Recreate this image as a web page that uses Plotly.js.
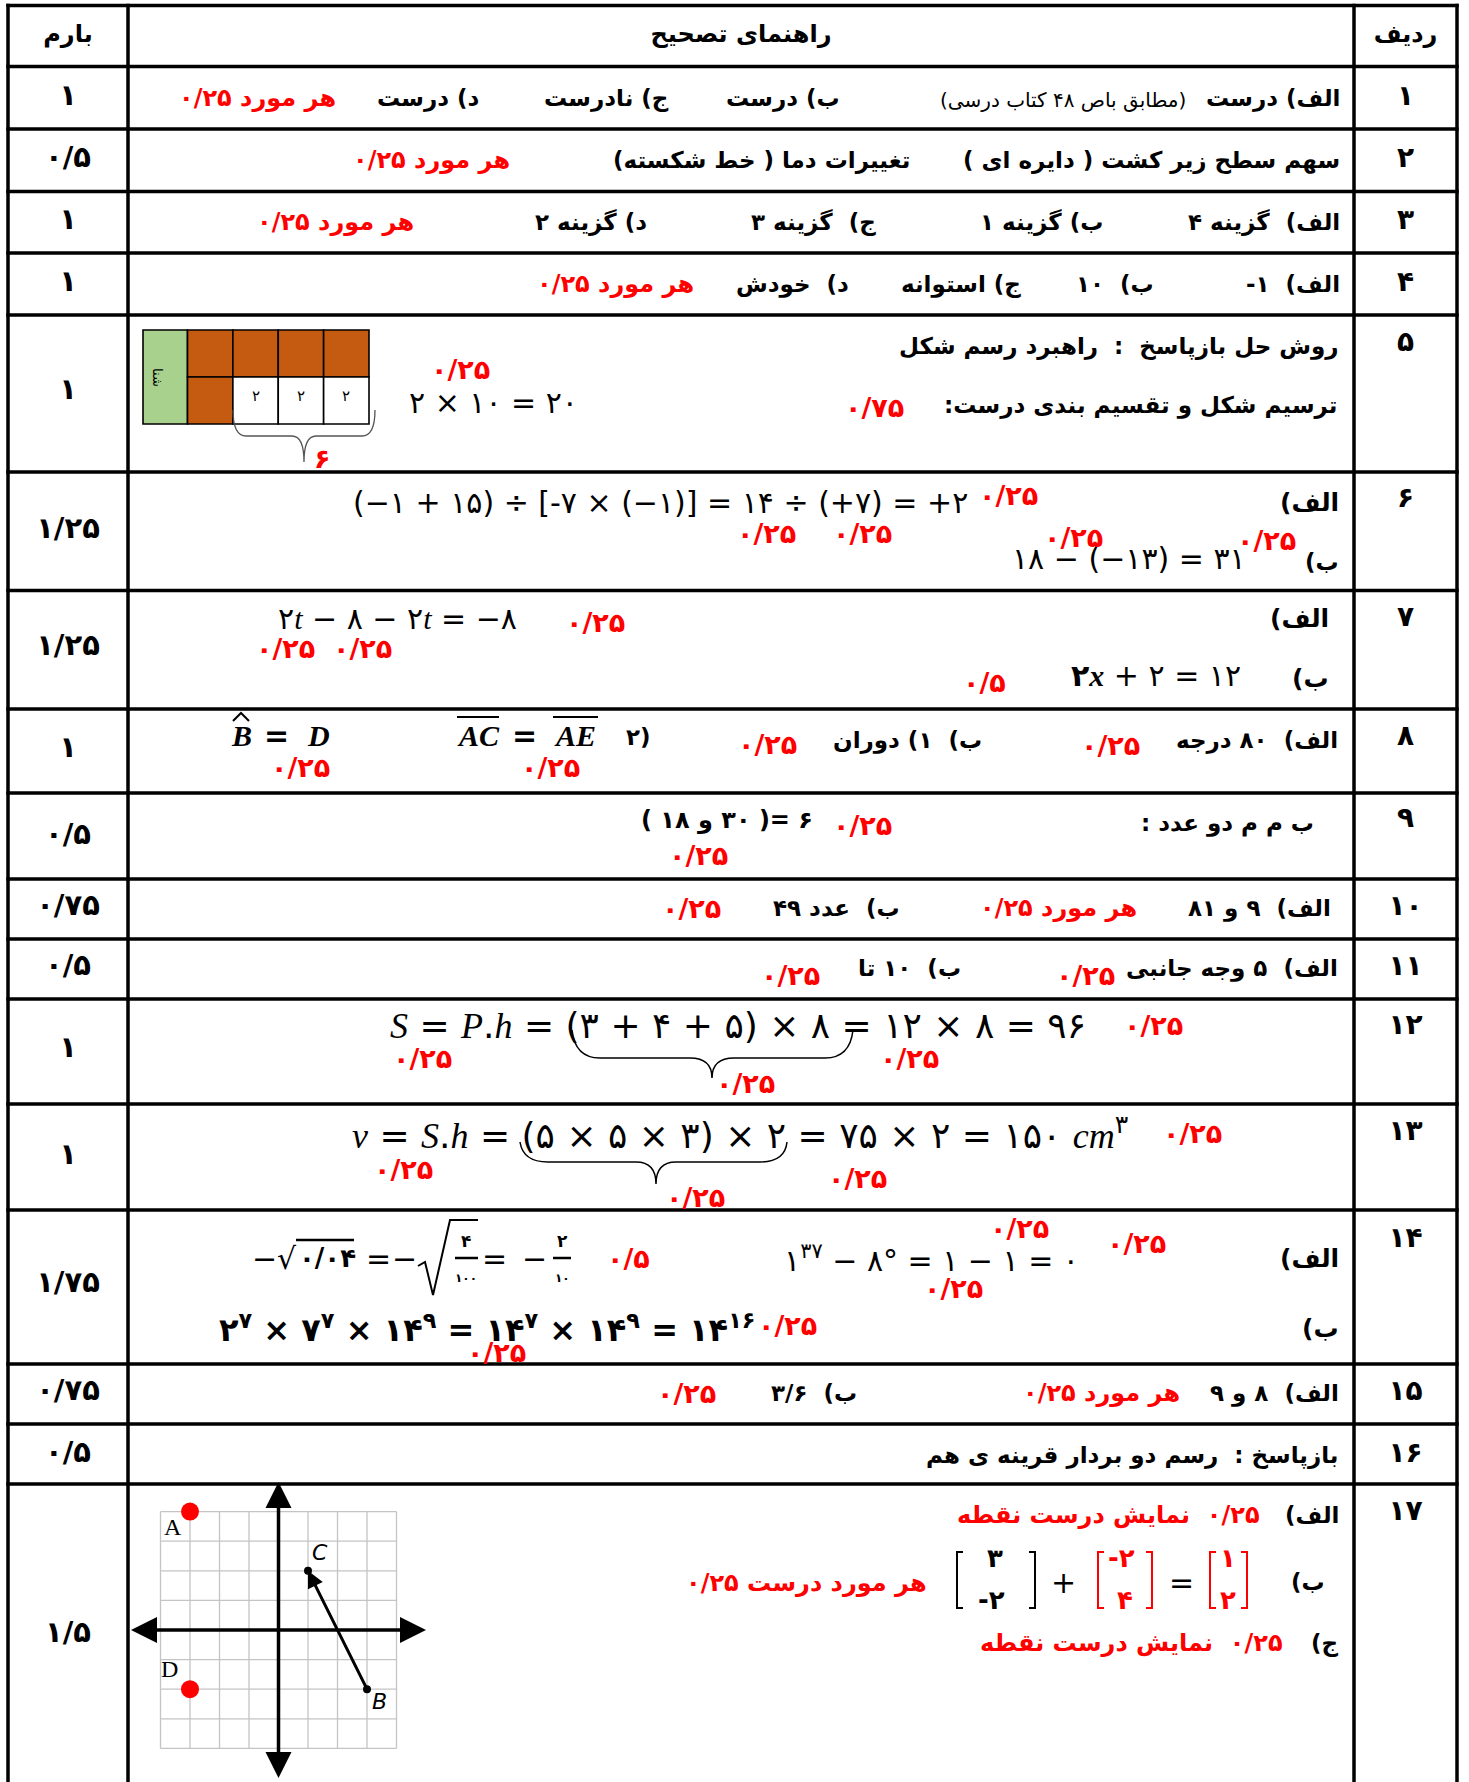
<!DOCTYPE html>
<html>
<head>
<meta charset="utf-8">
<script src="https://cdn.plot.ly/plotly-3.0.1.min.js"></script>
<style>html,body{margin:0;padding:0;background:#fff}</style>
</head>
<body>
<div id="sheet" style="width:1469px;height:1782px"></div>
<script>
// answer key: column titles, row numbers and the score of each row
var headerTitles = ['بارم', 'راهنمای تصحیح', 'ردیف'];
var rowNumbers = ['۱','۲','۳','۴','۵','۶','۷','۸','۹','۱۰','۱۱','۱۲','۱۳','۱۴','۱۵','۱۶','۱۷'];
var rowScores = ['۱','۰/۵','۱','۱','۱','۱/۲۵','۱/۲۵','۱','۰/۵','۰/۷۵','۰/۵','۱','۱','۱/۷۵','۰/۷۵','۰/۵','۱/۵'];

// question 17: points on the grid and the vector B -> C
var gridSteps = [-4, -3, -2, -1, 0, 1, 2, 3, 4];
var pointNames = ['A', 'D'];
var pointX = [-3, -3];
var pointY = [4, -2];
var vectorNames = ['B', 'C'];
var vectorX = [3, 1];
var vectorY = [-2, 2];

// question 5: bar model (4 parts on top, 1 shaded + three 2s below)
var topCells = 4;
var bottomShaded = 1;
var bottomLabels = ['۲', '۲', '۲'];

// ---- page geometry (pixels) ----
var W = 1469, H = 1782;
var rowEdges = [5.5, 66.5, 129, 191.5, 253, 315, 472, 590.5, 709, 793, 879, 939, 999, 1104, 1210, 1364, 1424, 1484];
var colEdges = [8, 128, 1354, 1457];
var numY = [98, 160, 222, 284, 344, 500, 619, 738, 820, 908, 968, 1027, 1133, 1240, 1393, 1455, 1513];
var scoreY = [98, 160, 222, 284, 392, 531, 648, 750, 837, 908, 968, 1050, 1157, 1285, 1393, 1455, 1635];

var FA = 'DejaVu Sans';
var SERIF = 'Liberation Serif';
var RED = '#ff0000';
var RLM = '\u200F';

var STY = {
  b:  {family: FA, size: 23, color: '#000', weight: 'bold', rtl: true},
  B:  {family: FA, size: 25, color: '#000', weight: 'bold', rtl: true},
  r:  {family: FA, size: 24, color: RED, weight: 'bold', rtl: true},
  rn: {family: FA, size: 27, color: RED, weight: 'bold'},
  s:  {family: FA, size: 20, color: '#000', weight: 'normal', rtl: true},
  lro:{family: FA, size: 24, color: '#000', weight: 'bold', lro: true},
  m:  {family: FA, size: 30, color: '#000', weight: 'normal'},
  mb: {family: FA, size: 30, color: '#000', weight: 'bold'},
  mbb:{family: FA, size: 32, color: '#000', weight: 'bold'},
  M:  {family: FA, size: 36, color: '#000', weight: 'normal'},
  f:  {family: FA, size: 17, color: '#000', weight: 'bold'},
  fs: {family: FA, size: 12, color: '#000', weight: 'bold'},
  c:  {family: FA, size: 15, color: '#000', weight: 'normal'},
  k:  {family: FA, size: 26, color: '#000', weight: 'bold'},
  kr: {family: FA, size: 26, color: RED, weight: 'bold'}
};

function it(s) { return '<span style="font-family:' + SERIF + ';font-style:italic">' + s + '</span>'; }
function itb(s) { return '<span style="font-family:' + SERIF + ';font-style:italic;font-weight:bold">' + s + '</span>'; }

var ann = [];
function note(t, x, y, anchor, kind, extra) {
  var s = STY[kind];
  var txt = t;
  if (s.rtl && /[\u0621-\u064A\u067E-\u06CC]/.test(t)) txt = RLM + t + RLM;
  if (s.lro) txt = '\u202D' + t + '\u202C';
  var a = {
    xref: 'x', yref: 'y', x: x, y: y, xanchor: anchor || 'center', yanchor: 'middle',
    text: txt, showarrow: false, borderpad: 0,
    font: {family: s.family, size: s.size, color: s.color, weight: s.weight}
  };
  for (var k in extra) a[k] = extra[k];
  ann.push(a);
}

var shapes = [];
function seg(x0, y0, x1, y1, w, c) {
  shapes.push({type: 'line', xref: 'x', yref: 'y', x0: x0, y0: y0, x1: x1, y1: y1,
    line: {color: c || '#000', width: w || 3.5}});
}
function path(d, w, c) {
  shapes.push({type: 'path', xref: 'x', yref: 'y', path: d, line: {color: c || '#000', width: w || 1.5}});
}
function box(x0, y0, x1, y1, fill) {
  shapes.push({type: 'rect', xref: 'x', yref: 'y', x0: x0, y0: y0, x1: x1, y1: y1,
    fillcolor: fill, line: {color: '#000', width: 1.6}, layer: 'below'});
}

// table frame
rowEdges.forEach(function (y) { seg(colEdges[0] - 1.7, y, colEdges[3] + 1.7, y); });
colEdges.forEach(function (x) { seg(x, rowEdges[0] - 1.7, x, H); });

// answers, row by row
var notes = [
  ['الف) درست', 1341, 98, 'right', 'b'],
  ['(مطابق باص ۴۸ کتاب درسی)', 1187, 100, 'right', 's'],
  ['ب) درست', 841, 98, 'right', 'b'],
  ['ج) نادرست', 670, 98, 'right', 'b'],
  ['د) درست', 481, 98, 'right', 'b'],
  ['هر مورد ۰/۲۵', 337, 98, 'right', 'r'],

  ['سهم سطح زیر کشت ( دایره ای )', 1341, 160, 'right', 'b'],
  ['تغییرات دما ( خط شکسته)', 911, 160, 'right', 'b'],
  ['هر مورد ۰/۲۵', 511, 160, 'right', 'r'],

  ['الف)  گزینه ۴', 1341, 222, 'right', 'b'],
  ['ب) گزینه ۱', 1104, 222, 'right', 'b'],
  ['ج)  گزینه ۳', 877, 222, 'right', 'b'],
  ['د) گزینه ۲', 648, 222, 'right', 'b'],
  ['هر مورد ۰/۲۵', 415, 222, 'right', 'r'],

  ['الف)  ۱-', 1341, 284, 'right', 'b'],
  ['ب)  ۱۰', 1155, 284, 'right', 'b'],
  ['ج) استوانه', 1022, 284, 'right', 'b'],
  ['د)  خودش', 850, 284, 'right', 'b'],
  ['هر مورد ۰/۲۵', 695, 284, 'right', 'r'],

  ['روش حل بازپاسخ  :  راهبرد رسم شکل', 1340, 346, 'right', 'b'],
  ['ترسیم شکل و تقسیم بندی درست:', 1338, 405, 'right', 'b'],
  ['۰/۷۵', 874, 407, 'center', 'rn'],
  ['۲ × ۱۰ = ۲۰', 408, 402, 'left', 'm'],
  ['۰/۲۵', 460, 369, 'center', 'rn'],
  ['۶', 322, 458, 'center', 'rn'],

  ['الف)', 1340, 502, 'right', 'B'],
  ['(−۱ + ۱۵) ÷ [-۷ × (−۱)] = ۱۴ ÷ (+۷) = +۲', 352, 502, 'left', 'm'],
  ['۰/۲۵', 1008, 495, 'center', 'rn'],
  ['۰/۲۵', 766, 533, 'center', 'rn'],
  ['۰/۲۵', 862, 533, 'center', 'rn'],
  ['ب)', 1340, 562, 'right', 'b'],
  ['۱۸ − (−۱۳) = ۳۱', 1011, 558, 'left', 'm'],
  ['۰/۲۵', 1073, 537, 'center', 'rn'],
  ['۰/۲۵', 1266, 540, 'center', 'rn'],

  ['الف)', 1330, 618, 'right', 'B'],
  ['۲' + it('t') + ' − ۸ − ۲' + it('t') + ' = −۸', 277, 618, 'left', 'm'],
  ['۰/۲۵', 595, 622, 'center', 'rn'],
  ['۰/۲۵', 285, 648, 'center', 'rn'],
  ['۰/۲۵', 362, 648, 'center', 'rn'],
  ['ب)', 1330, 678, 'right', 'B'],
  ['<b>۲</b>' + itb('x') + ' + ۲ = ۱۲', 1070, 675, 'left', 'm'],
  ['۰/۵', 984, 682, 'center', 'rn'],

  ['الف)  ۸۰ درجه', 1339, 740, 'right', 'b'],
  ['۰/۲۵', 1110, 745, 'center', 'rn'],
  ['ب)  ۱) دوران', 983, 740, 'right', 'b'],
  ['۰/۲۵', 767, 744, 'center', 'rn'],
  ['۲)', 652, 737, 'right', 'b'],
  [itb('AC'), 478, 735, 'center', 'mb'],
  ['=', 524, 735, 'center', 'mb'],
  [itb('AE'), 575, 735, 'center', 'mb'],
  [itb('B'), 241, 735, 'center', 'mb'],
  ['=', 276, 735, 'center', 'mb'],
  [itb('D'), 318, 735, 'center', 'mb'],
  ['۰/۲۵', 300, 767, 'center', 'rn'],
  ['۰/۲۵', 550, 767, 'center', 'rn'],

  ['ب م م دو عدد :', 1315, 823, 'right', 'b'],
  ['( ۱۸ و ۳۰ )= ۶', 640, 820, 'left', 'lro'],
  ['۰/۲۵', 862, 825, 'center', 'rn'],
  ['۰/۲۵', 698, 855, 'center', 'rn'],

  ['الف)  ۹ و ۸۱', 1332, 908, 'right', 'b'],
  ['هر مورد ۰/۲۵', 1138, 908, 'right', 'r'],
  ['ب)  عدد ۴۹', 901, 908, 'right', 'b'],
  ['۰/۲۵', 691, 908, 'center', 'rn'],

  ['الف)  ۵ وجه جانبی', 1339, 968, 'right', 'b'],
  ['۰/۲۵', 1085, 975, 'center', 'rn'],
  ['ب)  ۱۰ تا', 962, 968, 'right', 'b'],
  ['۰/۲۵', 790, 975, 'center', 'rn'],

  [it('S') + ' = ' + it('P') + '.' + it('h') + ' = (۳ + ۴ + ۵) × ۸ = ۱۲ × ۸ = ۹۶', 389, 1025, 'left', 'M'],
  ['۰/۲۵', 1153, 1025, 'center', 'rn'],
  ['۰/۲۵', 422, 1058, 'center', 'rn'],
  ['۰/۲۵', 909, 1058, 'center', 'rn'],
  ['۰/۲۵', 745, 1083, 'center', 'rn'],

  [it('v') + ' = ' + it('S') + '.' + it('h') + ' = (۵ × ۵ × ۳) × ۲ = ۷۵ × ۲ = ۱۵۰ ' + it('cm') + '<sup>۳</sup>', 351, 1133, 'left', 'M'],
  ['۰/۲۵', 1192, 1133, 'center', 'rn'],
  ['۰/۲۵', 403, 1169, 'center', 'rn'],
  ['۰/۲۵', 857, 1178, 'center', 'rn'],
  ['۰/۲۵', 695, 1197, 'center', 'rn'],

  ['الف)', 1340, 1258, 'right', 'B'],
  ['−', 264, 1258, 'center', 'm'],
  ['√', 287, 1258, 'center', 'm'],
  ['۰/۰۴', 327, 1258, 'center', 'k'],
  ['=', 378, 1258, 'center', 'm'],
  ['−', 404, 1258, 'center', 'm'],
  ['۴', 466, 1241, 'center', 'f'],
  ['۱۰۰', 466, 1278, 'center', 'fs'],
  ['=', 494, 1258, 'center', 'm'],
  ['−', 534, 1258, 'center', 'm'],
  ['۲', 562, 1241, 'center', 'f'],
  ['۱۰', 562, 1278, 'center', 'fs'],
  ['۰/۵', 628, 1258, 'center', 'rn'],
  ['۱<sup>۳۷</sup> − ۸° = ۱ − ۱ = ۰', 783, 1258, 'left', 'm'],
  ['۰/۲۵', 1019, 1228, 'center', 'rn'],
  ['۰/۲۵', 1136, 1243, 'center', 'rn'],
  ['۰/۲۵', 953, 1288, 'center', 'rn'],
  ['ب)', 1340, 1328, 'right', 'B'],
  ['۲<sup>۷</sup> × ۷<sup>۷</sup> × ۱۴<sup>۹</sup> = ۱۴<sup>۷</sup> × ۱۴<sup>۹</sup> = ۱۴<sup>۱۶</sup>', 218, 1328, 'left', 'mbb'],
  ['۰/۲۵', 787, 1325, 'center', 'rn'],
  ['۰/۲۵', 496, 1352, 'center', 'rn'],

  ['الف)  ۸ و ۹', 1340, 1393, 'right', 'b'],
  ['هر مورد ۰/۲۵', 1181, 1393, 'right', 'r'],
  ['ب)  ۳/۶', 858, 1393, 'right', 'b'],
  ['۰/۲۵', 686, 1393, 'center', 'rn'],

  ['بازپاسخ :  رسم دو بردار قرینه ی هم', 1340, 1455, 'right', 'b'],

  ['الف)', 1340, 1515, 'right', 'b'],
  ['۰/۲۵  نمایش درست نقطه', 1261, 1515, 'right', 'r'],
  ['ب)', 1326, 1582, 'right', 'b'],
  ['۳', 995, 1558, 'center', 'k'],
  ['-۲', 991, 1600, 'center', 'k'],
  ['+', 1063, 1582, 'center', 'm'],
  ['-۲', 1121, 1558, 'center', 'kr'],
  ['۴', 1125, 1600, 'center', 'kr'],
  ['=', 1181, 1582, 'center', 'm'],
  ['۱', 1228, 1558, 'center', 'kr'],
  ['۲', 1228, 1600, 'center', 'kr'],
  ['هر مورد درست ۰/۲۵', 928, 1583, 'right', 'r'],
  ['ج)', 1340, 1643, 'right', 'b'],
  ['۰/۲۵  نمایش درست نقطه', 1284, 1643, 'right', 'r']
];
notes.forEach(function (n) { note(n[0], n[1], n[2], n[3], n[4]); });

// question 5 bar model
var bx0 = 143, bGreen = 187.5, bx1 = 369, by0 = 330, bMid = 377, by1 = 424;
var cw = (bx1 - bGreen) / topCells;
box(bx0, by0, bGreen, by1, '#A9D18E');
for (var i = 0; i < topCells; i++) {
  box(bGreen + i * cw, by0, bGreen + (i + 1) * cw, bMid, '#C55A11');
  box(bGreen + i * cw, bMid, bGreen + (i + 1) * cw, by1, i < bottomShaded ? '#C55A11' : '#ffffff');
}
bottomLabels.forEach(function (t, k) { note(t, bGreen + (bottomShaded + k + 0.5) * cw, 396, 'center', 'c'); });
note('شنا', 158, 377, 'center', 's', {textangle: 90, font: {family: FA, size: 13, color: '#000'}});
path('M233,410 Q233,436 246,436 L292,436 Q304,436 304,462 Q304,436 316,436 L362,436 Q375,436 375,410', 1.3, '#555');

// braces, overlines and radicals of the formulas
path('M572,1030 Q575,1058 600,1058 L690,1058 Q712,1058 712,1078 Q712,1058 734,1058 L825,1058 Q850,1058 853,1030', 1.5);
path('M520,1142 Q523,1162 548,1162 L636,1162 Q656,1162 656,1184 Q656,1162 676,1162 L760,1162 Q785,1162 787,1142', 1.5);
seg(457, 717, 499, 717, 2.2);
seg(553, 717, 598, 717, 2.2);
path('M233,721 L241,713 L249,721', 2);
seg(296, 1240, 354, 1240, 2.5);
path('M418,1266 L425,1262 L433,1295 L450,1220 L478,1220', 2);
seg(455, 1258, 478, 1258, 2.5);
seg(553, 1258, 571, 1258, 2.5);

// matrix brackets of question 17
function brk(xl, xr, c) {
  path('M' + (xl + 6) + ',1552 L' + xl + ',1552 L' + xl + ',1608 L' + (xl + 6) + ',1608', 2, c);
  path('M' + (xr - 6) + ',1552 L' + xr + ',1552 L' + xr + ',1608 L' + (xr - 6) + ',1608', 2, c);
}
brk(957, 1035, '#000');
brk(1098, 1152, RED);
brk(1210, 1247, RED);

// ---- traces ----
var traces = [];
traces.push({
  x: [(colEdges[0] + colEdges[1]) / 2, (colEdges[1] + colEdges[2]) / 2, (colEdges[2] + colEdges[3]) / 2],
  y: [36, 36, 36], text: headerTitles, mode: 'text', textposition: 'middle center',
  textfont: {family: FA, size: 24, color: '#000', weight: 'bold'}, hoverinfo: 'skip'
});
traces.push({
  x: rowNumbers.map(function () { return (colEdges[2] + colEdges[3]) / 2; }), y: numY,
  text: rowNumbers, mode: 'text', textposition: 'middle center',
  textfont: {family: FA, size: 28, color: '#000', weight: 'bold'}, hoverinfo: 'skip'
});
traces.push({
  x: rowScores.map(function () { return (colEdges[0] + colEdges[1]) / 2; }), y: scoreY,
  text: rowScores, mode: 'text', textposition: 'middle center',
  textfont: {family: FA, size: 29, color: '#000', weight: 'bold'}, hoverinfo: 'skip'
});

// coordinate grid of question 17
var g0 = gridSteps[0], g1 = gridSteps[gridSteps.length - 1];
var gx = [], gy = [];
gridSteps.forEach(function (s) {
  gx.push(s, s, null); gy.push(g0, g1, null);
  gx.push(g0, g1, null); gy.push(s, s, null);
});
traces.push({x: gx, y: gy, xaxis: 'x2', yaxis: 'y2', mode: 'lines',
  line: {color: '#c4c4c4', width: 1.3}, hoverinfo: 'skip'});
traces.push({x: [-4.7, 4.7, null, 0, 0], y: [0, 0, null, -4.7, 4.7], xaxis: 'x2', yaxis: 'y2',
  mode: 'lines', line: {color: '#000', width: 3.5}, hoverinfo: 'skip'});
traces.push({x: [-5, 5, 0, 0], y: [0, 0, 5, -5], xaxis: 'x2', yaxis: 'y2', mode: 'markers', cliponaxis: false,
  marker: {symbol: ['arrow-left', 'arrow-right', 'arrow-up', 'arrow-down'], size: 26, color: '#000', line: {width: 0}},
  hoverinfo: 'skip'});
traces.push({x: pointX, y: pointY, xaxis: 'x2', yaxis: 'y2', mode: 'markers', cliponaxis: false,
  marker: {color: '#ff0000', size: 18, line: {width: 0}}, hoverinfo: 'skip'});
traces.push({x: vectorX, y: vectorY, xaxis: 'x2', yaxis: 'y2', mode: 'markers', cliponaxis: false,
  marker: {color: '#000', size: 8}, hoverinfo: 'skip'});

ann.push({xref: 'x2', yref: 'y2', axref: 'x2', ayref: 'y2', x: vectorX[1], y: vectorY[1],
  ax: vectorX[0], ay: vectorY[0], text: '', showarrow: true, arrowhead: 2, arrowsize: 1.1,
  arrowwidth: 3, arrowcolor: '#000'});
var ptShift = [[-17, -15], [-21, 20]];
pointNames.forEach(function (n, k) {
  ann.push({xref: 'x2', yref: 'y2', x: pointX[k], y: pointY[k], text: n, showarrow: false,
    xshift: ptShift[k][0], yshift: ptShift[k][1], font: {family: SERIF, size: 24, color: '#000'}});
});
var vecShift = [[12, -12], [12, 18]];
vectorNames.forEach(function (n, k) {
  ann.push({xref: 'x2', yref: 'y2', x: vectorX[k], y: vectorY[k], text: '<i>' + n + '</i>', showarrow: false,
    xshift: vecShift[k][0], yshift: vecShift[k][1], font: {family: 'DejaVu Sans', size: 22, color: '#000'}});
});

var layout = {
  width: W, height: H,
  margin: {l: 0, r: 0, t: 0, b: 0},
  paper_bgcolor: '#fff', plot_bgcolor: 'rgba(0,0,0,0)',
  showlegend: false,
  xaxis: {range: [0, W], visible: false, fixedrange: true, domain: [0, 1]},
  yaxis: {range: [H, 0], visible: false, fixedrange: true, domain: [0, 1]},
  xaxis2: {range: [-5, 5], visible: false, fixedrange: true, anchor: 'y2',
    domain: [131 / W, 426 / W]},
  yaxis2: {range: [-5, 5], visible: false, fixedrange: true, anchor: 'x2',
    domain: [(H - 1778) / H, (H - 1482) / H]},
  shapes: shapes,
  annotations: ann
};

Plotly.newPlot('sheet', traces, layout, {staticPlot: true, displayModeBar: false});
</script>
</body>
</html>
